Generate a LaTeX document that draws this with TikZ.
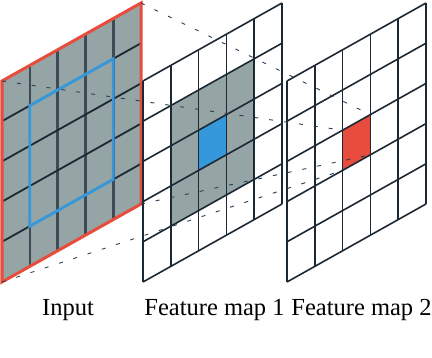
\documentclass[tikz,border=0pt]{standalone}
\usepackage{fontspec}
\setmainfont{Liberation Serif}
\definecolor{panelgray}{HTML}{95A5A6}
\definecolor{gridline}{HTML}{1C2833}
\definecolor{inputv}{HTML}{3E4A56}
\definecolor{myred}{HTML}{E74C3C}
\definecolor{myblue}{HTML}{3498DB}
\definecolor{dashcol}{HTML}{2C3E50}
\tikzset{
  gridln/.style={draw=gridline, line width=1.6pt},
  inputvln/.style={draw=inputv, line width=2.6pt},
  inputhln/.style={draw=gridline, line width=1.8pt},
  redborder/.style={draw=myred, line width=3pt, line join=miter},
  blueframe/.style={draw=myblue, line width=2.8pt},
  projline/.style={draw=dashcol, line width=0.9pt, dash pattern=on 4pt off 11pt},
  labeltext/.style={font=\fontsize{24.5}{29}\selectfont, inner sep=0pt, anchor=base},
}
\begin{document}
\begin{tikzpicture}[x=1pt,y=1pt]
\useasboundingbox (0,0) rectangle (432,-358);
% ---------- Input ----------
\begin{scope}[shift={(2,-81)}, x={(27.8pt,15.6pt)}, y={(0pt,-40.2pt)}]
  \fill[panelgray] (0,0) -- (5,0) -- (5,5) -- (0,5) -- cycle;
  \foreach \i in {1,...,4} \draw[inputvln] (\i,0) -- (\i,5);
  \foreach \j in {1,...,4} \draw[inputhln] (0,\j) -- (5,\j);
  \draw[blueframe] (1,1) -- (4,1) -- (4,4) -- (1,4) -- cycle;
  \draw[redborder] (0,0) -- (5,0) -- (5,5) -- (0,5) -- cycle;
  \coordinate (in-tl) at (0,0);
  \coordinate (in-tr) at (5,0);
  \coordinate (in-bl) at (0,5);
  \coordinate (in-br) at (5,5);
\end{scope}
% ---------- Feature map 1 ----------
\begin{scope}[shift={(143,-81)}, x={(27.8pt,15.6pt)}, y={(0pt,-40.2pt)}]
  \fill[white] (0,0) -- (5,0) -- (5,5) -- (0,5) -- cycle;
  \fill[panelgray] (1,1) -- (4,1) -- (4,4) -- (1,4) -- cycle;
  \fill[myblue] (2,2) -- (3,2) -- (3,3) -- (2,3) -- cycle;
  \foreach \i in {0,...,5} \draw[gridln] (\i,0) -- (\i,5);
  \foreach \j in {0,...,5} \draw[gridln] (0,\j) -- (5,\j);
\end{scope}
% ---------- Feature map 2 ----------
\begin{scope}[shift={(287,-81)}, x={(27.8pt,15.6pt)}, y={(0pt,-40.2pt)}]
  \fill[white] (0,0) -- (5,0) -- (5,5) -- (0,5) -- cycle;
  \fill[myred] (2,2) -- (3,2) -- (3,3) -- (2,3) -- cycle;
  \foreach \i in {0,...,5} \draw[gridln] (\i,0) -- (\i,5);
  \foreach \j in {0,...,5} \draw[gridln] (0,\j) -- (5,\j);
  \coordinate (r-tl) at (2,2);
  \coordinate (r-tr) at (3,2);
  \coordinate (r-bl) at (2,3);
  \coordinate (r-br) at (3,3);
\end{scope}
% ---------- projection lines ----------
\draw[projline] (in-tl) -- (r-tl);
\draw[projline] (in-tr) -- (r-tr);
\draw[projline] (in-bl) -- (r-bl);
\draw[projline] (in-br) -- (r-br);
% ---------- labels ----------
\node[labeltext] (lab-in) at (68,-315.7) {Input};
\node[labeltext] (lab-f1) at (214.5,-315.7) {Feature map 1};
\node[labeltext] (lab-f2) at (361.5,-315.7) {Feature map 2};
\end{tikzpicture}
\end{document}
